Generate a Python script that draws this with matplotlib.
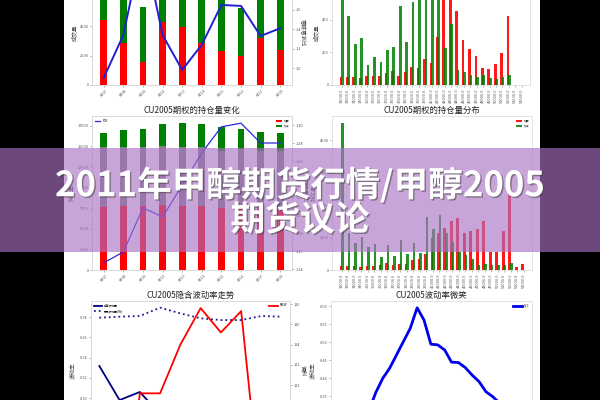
import matplotlib
matplotlib.use("Agg")
import matplotlib.pyplot as plt
import matplotlib.patheffects as pe
from matplotlib.patches import Rectangle
import numpy as np

plt.rcParams['font.family'] = ['Noto Sans CJK SC', 'DejaVu Sans']

# ---------------- data ----------------
dates = ['0407', '0408', '0409', '0410', '0413', '0414', '0415', '0416', '0417', '0420']
vol_call = [4400, 2850, 1560, 4270, 3930, 2850, 2300, 1970, 3200, 2400]
vol_put = [3960, 3820, 3700, 5720, 3850, 3530, 3800, 3230, 4260, 3380]
vol_pcr = [0.90, 1.34, 2.30, 1.34, 0.98, 1.24, 1.65, 1.64, 1.33, 1.41]

oi_call = [7700, 7750, 7750, 7900, 7800, 7750, 7550, 7450, 7350, 7300]
oi_mid = [7200, 7150, 7150, 7100, 7100, 7150, 6950, 7250, 7150, 7200]
oi_put = [1700, 2100, 2250, 2700, 2900, 2800, 2850, 2400, 2200, 2100]
oi_pcr = [1.147, 1.159, 1.208, 1.198, 1.233, 1.269, 1.298, 1.302, 1.280, 1.280]

strikes = ['33000.0', '33500.0', '34000.0', '34500.0', '35000.0', '35500.0', '36000.0',
           '36500.0', '37000.0', '37500.0', '38000.0', '38500.0', '39000.0', '39500.0',
           '40000.0', '41000.0', '42000.0', '43000.0', '44000.0', '45000.0', '46000.0',
           '47000.0', '48000.0', '49000.0', '50000.0', '51000.0', '52000.0', '53000.0',
           '54000.0']
dist_vol_call = [48, 48, 48, 45, 55, 58, 58, 72, 85, 55, 80, 110, 105, 160, 135, 295, 620,
                 580, 455, 275, 218, 175, 105, 98, 128, 198, 420, 0, 0]
dist_vol_put = [720, 420, 250, 290, 120, 170, 140, 215, 230, 480, 265, 505, 600, 700, 650,
                560, 225, 370, 90, 78, 60, 48, 62, 42, 38, 50, 62, 0, 0]
dist_oi_call = [120, 110, 120, 100, 110, 120, 160, 220, 150, 170, 200, 300, 330, 480, 1000,
                1150, 1300, 1500, 1600, 1150, 1200, 1250, 1500, 550, 550, 1200, 2680, 100, 200]
dist_oi_put = [4520, 1140, 830, 1020, 720, 800, 410, 770, 430, 920, 490, 830, 520, 1620,
               1250, 1680, 1150, 860, 550, 460, 340, 150, 180, 150, 150, 160, 220, 0, 0]

iv_atm = [0.3317, 0.298, 0.306, 0.284, 0.272, 0.265, 0.268, 0.272, 0.276, 0.280]
hv = [0.3793, 0.3803, 0.381, 0.3892, 0.3836, 0.3787, 0.377, 0.377, 0.381, 0.3803]
skew = [104.0, 103.0, 111.6, 111.6, 114.0, 115.8, 114.6, 115.65, 106.0, 105.0]

smile_iv = [0.24, 0.245, 0.25, 0.27, 0.31, 0.36, 0.399, 0.427, 0.464, 0.501, 0.538, 0.595,
            0.561, 0.494, 0.492, 0.478, 0.444, 0.443, 0.429, 0.408, 0.390, 0.362, 0.348,
            0.33, 0.315, 0.30, 0.29, 0.28]

title_main = "2011年甲醇期货行情/甲醇2005"
title_main2 = "期货议论"

# ---------------- figure ----------------
W, H = 600, 400
fig = plt.figure(figsize=(6, 4), dpi=100, facecolor='black')
fig.patches.append(Rectangle((64 / W, 0), (540 - 64) / W, 1, transform=fig.transFigure,
                             facecolor='white', edgecolor='none', zorder=-5))


def ax_px(x0, x1, ytop, ybot):
    return fig.add_axes([x0 / W, 1 - ybot / H, (x1 - x0) / W, (ybot - ytop) / H])


SP = '#d8d8d8'
TFS = 2.8
RED, GREEN, GRAY = '#ff0000', '#008000', '#808080'


def style(ax):
    for s in ax.spines.values():
        s.set_color(SP)
        s.set_linewidth(0.5)
    ax.tick_params(labelsize=TFS, length=1.5, width=0.4, color='#777777', pad=1,
                   labelcolor='#555555')


# chart 1: volume
ax1 = ax_px(92, 292, -20, 85)
x = np.arange(len(dates))
ax1.bar(x, vol_call, 0.34, color=RED)
ax1.bar(x, vol_put, 0.34, bottom=vol_call, color=GREEN)
ax1.set_xlim(-0.6, 9.6)
ax1.set_ylim(0, 7119)
ax1.set_yticks([0, 2000, 4000, 6000])
ax1.set_xticks(x)
ax1.set_xticklabels(dates, rotation=45)
ax1.set_ylabel('成交量', fontsize=4, labelpad=2, color='#444444')
style(ax1)
ax1b = ax1.twinx()
ax1b.plot(x, vol_pcr, color='#2020d0', lw=1.4)
ax1b.set_ylim(0.825, 1.907)
ax1b.set_yticks([1.0, 1.2, 1.4, 1.6, 1.8])
ax1b.set_ylabel('看跌看涨比', fontsize=4, rotation=270, labelpad=4, color='#444444')
style(ax1b)

# chart 2: volume distribution
ax2 = ax_px(332, 530, -20, 85)
xs = np.arange(len(strikes))
ax2.bar(xs - 0.12, dist_vol_call, 0.42, color=RED, alpha=0.9, label='认购')
ax2.bar(xs + 0.12, dist_vol_put, 0.42, color=GREEN, alpha=0.85, label='认沽')
ax2.set_xlim(-1.5, 29.3)
ax2.set_ylim(0, 642)
ax2.set_yticks([0, 200, 400, 600])
ax2.set_xticks(xs)
ax2.set_xticklabels(strikes, rotation=90)
ax2.set_ylabel('成交量', fontsize=4, labelpad=2, color='#444444')
style(ax2)

# chart 3: open interest
ax3 = ax_px(92, 292, 116, 270)
b1 = ax3.bar(x, oi_call, 0.34, color=RED, label='认购')
bot2 = np.array(oi_call)
ax3.bar(x, oi_mid, 0.34, bottom=bot2, color=GRAY)
bot3 = bot2 + np.array(oi_mid)
b3 = ax3.bar(x, oi_put, 0.34, bottom=bot3, color=GREEN, label='认沽')
ax3.set_xlim(-0.6, 9.6)
ax3.set_ylim(0, 18700)
ax3.set_yticks([0, 2500, 5000, 7500, 10000, 12500, 15000, 17500])
ax3.set_xticks(x)
ax3.set_xticklabels(dates, rotation=45)
ax3.set_ylabel('持仓量', fontsize=4, labelpad=2, color='#444444')
ax3.set_title('CU2005期权的持仓量变化', fontsize=6, pad=2, color='#222222')
style(ax3)
ax3b = ax3.twinx()
l3, = ax3b.plot(x, oi_pcr, color='#2a2ad8', lw=0.9, label='PCR')
ax3b.set_ylim(1.139, 1.31)
ax3b.set_yticks([1.14, 1.16, 1.18, 1.20, 1.22, 1.24, 1.26, 1.28, 1.30])
ax3b.set_ylabel('看跌看涨比', fontsize=4, rotation=270, labelpad=4, color='#444444')
style(ax3b)
ax3b.legend(handles=[l3], loc='upper left', fontsize=2, frameon=False, handlelength=2)
ax3.legend(handles=[b1, b3], loc='upper right', fontsize=2, frameon=False, handlelength=2)

# chart 4: open interest distribution
ax4 = ax_px(332, 532, 116, 270)
ax4.bar(xs - 0.12, dist_oi_call, 0.42, color=RED, alpha=0.9, label='认购')
ax4.bar(xs + 0.12, dist_oi_put, 0.42, color=GREEN, alpha=0.85, label='认沽')
ax4.set_xlim(-1.5, 29.3)
ax4.set_ylim(0, 4740)
ax4.set_yticks([0, 1000, 2000, 3000, 4000])
ax4.set_xticks(xs)
ax4.set_xticklabels(strikes, rotation=90)
ax4.set_ylabel('持仓量', fontsize=4, labelpad=2, color='#444444')
ax4.set_title('CU2005期权的持仓量分布', fontsize=6, pad=2, color='#222222')
ax4.legend(loc='upper right', fontsize=2, frameon=False, handlelength=2)
style(ax4)

# chart 5: implied volatility trend
ax5 = ax_px(91, 290, 301, 440)
l51, = ax5.plot(x, iv_atm, color='#000080', lw=1.3, label='隐含波动率')
l52, = ax5.plot(x, hv, color='#1c1c90', lw=1.3, ls=':', label='历史波动率(HV)')
ax5.set_xlim(-0.41, 9.41)
ax5.set_ylim(0.2586, 0.3958)
ax5.set_yticks([0.26, 0.28, 0.30, 0.32, 0.34, 0.36, 0.38])
ax5.set_yticklabels(['0.26', '0.28', '0.30', '0.32', '0.34', '0.36', '0.38'])
ax5.set_xticks(x)
ax5.set_xticklabels(dates, rotation=45)
ax5.set_ylabel('波动率', fontsize=4, labelpad=3, color='#444444')
ax5.set_title('CU2005隐含波动率走势', fontsize=6, pad=2, color='#222222')
style(ax5)
ax5b = ax5.twinx()
l53, = ax5b.plot(x, skew, color=RED, lw=1.3, label='SKEW')
ax5b.set_ylim(109.3, 116.15)
ax5b.set_yticks([110, 111, 112, 113, 114, 115, 116])
ax5b.set_ylabel('偏斜', fontsize=4, rotation=270, labelpad=4, color='#444444')
style(ax5b)
ax5.legend(handles=[l51, l52], loc='upper left', fontsize=2, frameon=False, handlelength=3)
ax5b.legend(handles=[l53], loc='upper right', fontsize=2, frameon=False, handlelength=3)

# chart 6: volatility smile
ax6 = ax_px(331, 532, 301, 440)
k = np.arange(len(smile_iv))
ax6.plot(k, smile_iv, color='#0000ee', lw=2.0, label='IV_C')
ax6.set_xlim(-1.52, 27.7)
ax6.set_ylim(0.2278, 0.6139)
ax6.set_yticks([0.25, 0.30, 0.35, 0.40, 0.45, 0.50, 0.55, 0.60])
ax6.set_yticklabels(['0.25', '0.30', '0.35', '0.40', '0.45', '0.50', '0.55', '0.60'])
ax6.set_xticks(k)
ax6.set_xticklabels(strikes[:len(k)], rotation=90)
ax6.set_ylabel('波动率', fontsize=4, labelpad=3, color='#444444')
ax6.set_title('CU2005波动率微笑', fontsize=6, pad=2, color='#222222')
ax6.legend(loc='upper right', fontsize=2, frameon=False, handlelength=3)
style(ax6)

# ---------------- banner ----------------
fig.patches.append(Rectangle((0, 1 - 252 / H), 1, (252 - 148) / H, transform=fig.transFigure,
                             facecolor='#aa72c4', alpha=0.64, edgecolor='none', zorder=20))
fx = dict(path_effects=[pe.withSimplePatchShadow(offset=(1, -1), shadow_rgbFace='#444444',
                                                 alpha=0.55)])
fig.text(0.5, 1 - 185 / H, title_main, ha='center', va='center', fontsize=25,
         fontweight='black', color='white', zorder=21, **fx)
fig.text(0.5, 1 - 220 / H, title_main2, ha='center', va='center', fontsize=25,
         fontweight='black', color='white', zorder=21, **fx)

fig.savefig('out.png', dpi=100, facecolor='black')
